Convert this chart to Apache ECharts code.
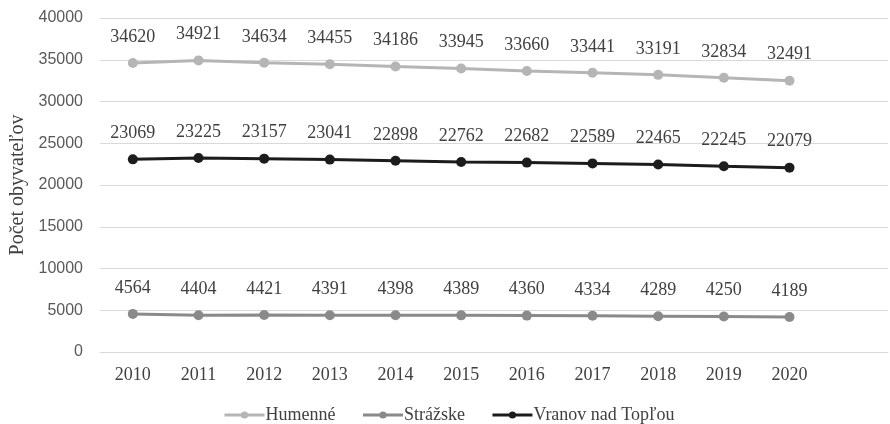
<!DOCTYPE html>
<html>
<head>
<meta charset="utf-8">
<script src="https://cdn.jsdelivr.net/npm/echarts@6/dist/echarts.min.js"></script>
<style>
  html, body { margin: 0; padding: 0; background: #fff; }
  #chart { width: 890px; height: 424px; }
</style>
</head>
<body>
<div id="chart"></div>
<script>
// Population by year for three towns
const years = ['2010', '2011', '2012', '2013', '2014', '2015', '2016', '2017', '2018', '2019', '2020'];
const humenne = [34620, 34921, 34634, 34455, 34186, 33945, 33660, 33441, 33191, 32834, 32491];
const strazske = [4564, 4404, 4421, 4391, 4398, 4389, 4360, 4334, 4289, 4250, 4189];
const vranov = [23069, 23225, 23157, 23041, 22898, 22762, 22682, 22589, 22465, 22245, 22079];
const yTicks = { min: 0, max: 40000, interval: 5000 };

const serif = '"Liberation Serif", "DejaVu Serif", serif';
const sans = '"Liberation Sans", "Open Sans", sans-serif';

function lineSeries(name, data, color) {
  return {
    name: name,
    type: 'line',
    data: data,
    symbol: 'circle',
    symbolSize: 10,
    lineStyle: { color: color, width: 3 },
    itemStyle: { color: color },
    label: {
      show: true,
      position: 'top',
      distance: 12,
      color: '#404040',
      fontFamily: serif,
      fontSize: 18
    }
  };
}

const chart = echarts.init(document.getElementById('chart'), null, { renderer: 'canvas' });
chart.setOption({
  animation: false,
  grid: {
    left: 100, right: 2, top: 18, bottom: 72,
    containLabel: false,
    outerBoundsMode: 'none'
  },
  legend: {
    top: 401,
    left: 218,
    itemWidth: 40,
    itemHeight: 9,
    itemGap: 26,
    lineStyle: { width: 3 },
    textStyle: { fontFamily: serif, fontSize: 18, color: '#404040', padding: [0, 0, 0, -4] },
    data: ['Humenné', 'Strážske', 'Vranov nad Topľou']
  },
  xAxis: {
    type: 'category',
    // one spare slot keeps free room on the right of the plot
    data: years.concat(['']),
    boundaryGap: true,
    axisLine: { show: true, lineStyle: { color: '#d9d9d9' } },
    axisTick: { show: false },
    axisLabel: { fontFamily: serif, fontSize: 18, color: '#404040', margin: 14 }
  },
  yAxis: {
    type: 'value',
    min: yTicks.min,
    max: yTicks.max,
    interval: yTicks.interval,
    name: 'Počet obyvateľov',
    nameLocation: 'middle',
    nameGap: 67,
    nameTextStyle: { fontFamily: serif, fontSize: 20, color: '#404040' },
    axisLine: { show: false },
    axisTick: { show: false },
    axisLabel: {
      fontFamily: sans,
      fontSize: 16,
      color: '#595959',
      margin: 17,
      formatter: function (v) { return String(v); }
    },
    splitLine: { lineStyle: { color: '#d9d9d9', width: 1 } }
  },
  series: [
    lineSeries('Humenné', humenne, '#b5b5b5'),
    lineSeries('Strážske', strazske, '#8a8a8a'),
    lineSeries('Vranov nad Topľou', vranov, '#1c1c1c')
  ]
});
</script>
</body>
</html>
